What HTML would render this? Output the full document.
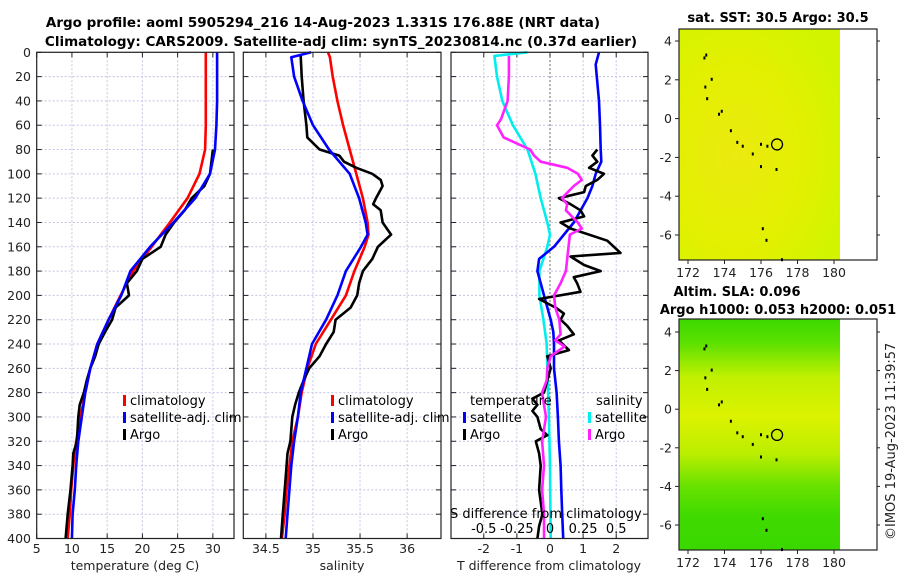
<!DOCTYPE html>
<html><head><meta charset="utf-8"><style>
html,body{margin:0;padding:0;background:#fff;}
svg{display:block;font-family:"DejaVu Sans","Liberation Sans",sans-serif;}
</style></head><body>
<svg id="c" width="900" height="580" viewBox="0 0 900 580" xmlns="http://www.w3.org/2000/svg">
<text x="323" y="27" text-anchor="middle" font-size="13.5" font-weight="bold">Argo profile: aoml 5905294_216 14-Aug-2023 1.331S 176.88E (NRT data)</text>
<text x="341" y="46" text-anchor="middle" font-size="13.5" font-weight="bold">Climatology: CARS2009. Satellite-adj clim: synTS_20230814.nc (0.37d earlier)</text>
<defs>
<radialGradient id="sstg" cx="0.35" cy="0.55" r="0.7"><stop offset="0" stop-color="#ecea10"/><stop offset="0.6" stop-color="#e2f000"/><stop offset="1" stop-color="#d2f400"/></radialGradient>
<linearGradient id="slag" x1="0" y1="0" x2="0" y2="1">
<stop offset="0" stop-color="#3cd800"/><stop offset="0.1" stop-color="#5ae000"/><stop offset="0.25" stop-color="#c0f000"/><stop offset="0.42" stop-color="#dcf200"/><stop offset="0.58" stop-color="#bcee00"/><stop offset="0.72" stop-color="#6ae200"/><stop offset="0.85" stop-color="#40da00"/><stop offset="1" stop-color="#3ad800"/></linearGradient>
</defs>
<g id="plots"></g>
</svg>
<script>
// ---- data (depth in m) ----
const depthClim = [0,20,40,60,80,100,120,140,160,180,200,220,240,260,280,300,320,340,360,380,400];
const tempClim = [29.0,29.0,29.0,29.0,28.9,28.1,26.4,23.9,21.3,18.7,16.9,15.2,13.6,12.6,11.9,11.2,10.6,10.2,9.9,9.7,9.4];
const tempSat = [30.6,30.6,30.6,30.5,30.3,29.6,27.5,24.4,21.1,18.3,17.0,15.2,13.6,12.6,11.9,11.4,10.9,10.6,10.4,10.1,10.0];
const depthArgoT = [80,100,110,120,130,140,150,160,170,175,180,190,200,210,220,230,240,250,260,270,280,290,300,320,330,340,360,380,400];
const tempArgo = [30.0,29.6,28.8,27.0,26.0,24.5,23.3,22.6,20.0,19.6,19.2,17.8,18.1,16.2,15.7,14.7,13.8,13.3,12.6,12.1,11.7,11.1,10.9,10.7,10.2,10.1,9.8,9.4,9.1];
const depthSal = [0,4,20,40,60,80,100,120,140,150,160,180,200,220,240,260,280,300,320,340,360,380,400];
const salClim = [35.16,35.18,35.21,35.26,35.32,35.39,35.46,35.53,35.58,35.59,35.55,35.44,35.35,35.19,35.03,34.94,34.88,34.84,34.78,34.75,34.72,34.70,34.67];
const salSat = [34.98,34.77,34.80,34.89,35.00,35.17,35.39,35.49,35.56,35.58,35.51,35.35,35.26,35.14,34.99,34.93,34.87,34.84,34.80,34.77,34.75,34.73,34.71];
const depthArgoS = [3,20,40,60,70,80,85,90,95,100,105,110,120,125,130,140,150,160,170,180,190,200,210,220,230,240,250,260,270,280,290,300,320,330,340,360,380,400];
const salArgo = [34.87,34.88,34.90,34.93,34.94,35.07,35.28,35.33,35.46,35.63,35.72,35.74,35.67,35.64,35.72,35.74,35.83,35.69,35.63,35.53,35.49,35.47,35.40,35.24,35.22,35.14,35.07,34.96,34.90,34.85,34.81,34.78,34.76,34.73,34.72,34.70,34.68,34.66];
const depthDiffTS = [0,10,40,60,80,90,100,110,120,140,160,170,180,190,200,220,230,240,260,280,300,320,340,360,380,400];
const tDiffSat = [1.48,1.38,1.48,1.51,1.53,1.55,1.38,1.28,1.13,0.72,0.12,-0.33,-0.38,-0.28,-0.18,0.02,0.10,0.12,0.12,0.20,0.24,0.27,0.32,0.34,0.37,0.40];
const depthDiffTA = [80,85,90,95,100,105,110,115,120,125,130,135,140,145,155,165,168,175,180,185,190,197,203,210,215,220,225,232,237,245,250,260,270,280,285,290,295,300,310,315,320,330,340,360,380,390,400];
const tDiffArgo = [1.43,1.28,1.43,1.18,1.63,1.43,1.08,1.03,0.27,0.62,0.92,1.03,0.32,0.62,1.73,2.13,0.62,1.03,1.53,0.72,0.82,0.92,-0.33,0.17,0.42,0.32,0.52,0.72,0.27,0.57,-0.08,0.02,-0.08,-0.18,-0.53,-0.38,-0.53,-0.38,-0.28,-0.08,-0.43,-0.33,-0.28,-0.33,-0.23,-0.33,-0.38];
const depthDiffS = [0,3,20,40,60,80,100,120,140,150,160,180,200,220,240,260,300,340,400];
const sDiffSat = [-0.17,-0.42,-0.40,-0.36,-0.28,-0.17,-0.11,-0.07,-0.02,0.00,-0.02,-0.08,-0.08,-0.05,-0.025,-0.02,-0.008,0.0,0.005];
const depthDiffSA = [3,20,40,55,60,70,80,85,90,95,100,105,110,120,125,130,140,145,150,160,170,180,190,200,210,220,232,237,242,250,260,270,280,290,300,320,340,360,380,400];
const sDiffArgo = [-0.31,-0.31,-0.32,-0.37,-0.40,-0.35,-0.15,-0.12,-0.07,0.13,0.21,0.24,0.18,0.09,0.13,0.12,0.21,0.24,0.15,0.14,0.13,0.12,0.08,0.03,0.04,0.07,0.08,0.04,0.11,0.005,-0.02,-0.025,-0.06,-0.045,-0.03,-0.06,-0.045,-0.06,-0.045,-0.045];
const depthTicks = [0,20,40,60,80,100,120,140,160,180,200,220,240,260,280,300,320,340,360,380,400];
const tempTicks = [5,10,15,20,25,30];
const salTicks = [34.5,35,35.5,36];
const tDiffTicks = [-2,-1,0,1,2];
const sDiffTicks = [-0.5,-0.25,0,0.25,0.5];
const sDiffTickLabels = ["-0.5","-0.25","0","0.25","0.5"];
const lonTicks = [172,174,176,178,180];
const latTicks = [4,2,0,-2,-4,-6];
const argoLon = [176.88];
const argoLat = [-1.331];
const islandLon = [172.9,173.0,172.95,173.3,173.05,173.7,173.85,174.35,174.7,175.0,175.55,176.0,176.35,176.0,176.85,176.1,176.3,177.15];
const islandLat = [3.1,3.25,1.6,2.0,1.0,0.2,0.35,-0.65,-1.25,-1.45,-1.85,-1.35,-1.45,-2.5,-2.65,-5.7,-6.3,-7.3];

const NS='http://www.w3.org/2000/svg';
const root=document.getElementById('plots');
function el(tag,attrs,parent){const e=document.createElementNS(NS,tag);for(const k in attrs)e.setAttribute(k,attrs[k]);(parent||root).appendChild(e);return e;}
const Y0=52.3, Y1=538.5;
const yD=d=>Y0+(d/400)*(Y1-Y0);
function mk(x0,x1,v0,v1){return v=>x0+(v-v0)/(v1-v0)*(x1-x0);}
function frame(name){
  const g=el('g',{});
  
  
  return g;
}
function grid(g,x0,x1,xs){
  depthTicks.forEach(d=>{const l=el('line',{x1:x0,x2:x1,y1:yD(d),y2:yD(d),stroke:'#c4c4e6','stroke-width':1,'stroke-dasharray':'2,2'},g);
    
    el('line',{x1:x0,x2:x0+5,y1:yD(d),y2:yD(d),stroke:'#222'},g);el('line',{x1:x1-5,x2:x1,y1:yD(d),y2:yD(d),stroke:'#222'},g);});
  xs.forEach(x=>{const l=el('line',{x1:x,x2:x,y1:Y0,y2:Y1,stroke:'#c4c4e6','stroke-width':1,'stroke-dasharray':'2,2'},g);
    
    el('line',{x1:x,x2:x,y1:Y1,y2:Y1-5,stroke:'#222'},g);el('line',{x1:x,x2:x,y1:Y0,y2:Y0+5,stroke:'#222'},g);});
}
function box(g,x0,x1){const r=el('rect',{x:x0,y:Y0,width:x1-x0,height:Y1-Y0,fill:'none',stroke:'#222','stroke-width':1.2},g);}
function line(g,xs,ds,xf,color,name){
  const p=xs.map((v,i)=>(i?'L':'M')+xf(v).toFixed(1)+','+yD(ds[i]).toFixed(1)).join('');
  const e=el('path',{d:p,fill:'none',stroke:color,'stroke-width':2.6,'stroke-linejoin':'round'},g);
  
  
}
function txt(g,x,y,s,attrs,name){const t=el('text',Object.assign({x:x,y:y,'font-size':12.5,fill:'#222'},attrs||{}),g);t.textContent=s;
  return t;}
function legItem(g,x,y,color,label,name){el('rect',{x:x,y:y-10,width:3,height:11,fill:color},g);txt(g,x+7,y,label,{'font-size':13,fill:'#000'},name);}

// Panel 1 temperature
const x1f=mk(36.7,234,5,33);
const g1=frame('temperature-panel');
grid(g1,36.7,234,tempTicks.map(x1f));
depthTicks.forEach(d=>txt(g1,31,yD(d)+4.5,String(d),{'text-anchor':'end'},'y-tick-label'));
tempTicks.forEach(t=>txt(g1,x1f(t),553,String(t),{'text-anchor':'middle'},'x-tick-label'));
txt(g1,135,570,'temperature (deg C)',{'text-anchor':'middle'},'x-axis-title');
line(g1,tempClim,depthClim,x1f,'#ff0000','temp-climatology-line');
line(g1,tempArgo,depthArgoT,x1f,'#000','temp-argo-line');
line(g1,tempSat,depthClim,x1f,'#0000ff','temp-satellite-line');
legItem(g1,123,405,'#ff0000','climatology','legend-climatology');
legItem(g1,123,422,'#0000ff','satellite-adj. clim','legend-satellite');
legItem(g1,123,439,'#000','Argo','legend-argo');
box(g1,36.7,234);

// Panel 2 salinity
const x2f=mk(243.3,441,34.26,36.36);
const g2=frame('salinity-panel');
grid(g2,243.3,441,salTicks.map(x2f));
salTicks.forEach(t=>txt(g2,x2f(t),553,String(t),{'text-anchor':'middle'},'x-tick-label'));
txt(g2,342,570,'salinity',{'text-anchor':'middle'},'x-axis-title');
line(g2,salClim,depthSal,x2f,'#ff0000','sal-climatology-line');
line(g2,salArgo,depthArgoS,x2f,'#000','sal-argo-line');
line(g2,salSat,depthSal,x2f,'#0000ff','sal-satellite-line');
legItem(g2,331,405,'#ff0000','climatology','legend-climatology');
legItem(g2,331,422,'#0000ff','satellite-adj. clim','legend-satellite');
legItem(g2,331,439,'#000','Argo','legend-argo');
box(g2,243.3,441);

// Panel 3 differences
const x3f=mk(451,648,-2.99,2.96);
const s3f=s=>x3f(s*4);
const g3=frame('difference-panel');
grid(g3,451,648,tDiffTicks.map(x3f));
el('line',{x1:x3f(0),x2:x3f(0),y1:Y0,y2:Y1,stroke:'#445522','stroke-width':1,'stroke-dasharray':'1.5,2.5'},g3);
tDiffTicks.forEach(t=>txt(g3,x3f(t),553,String(t),{'text-anchor':'middle'},'x-tick-label'));
txt(g3,549,570,'T difference from climatology',{'text-anchor':'middle'},'x-axis-title');
line(g3,sDiffSat,depthDiffS,s3f,'#00eeee','s-diff-satellite-line');
line(g3,tDiffSat,depthDiffTS,x3f,'#0000ff','t-diff-satellite-line');
line(g3,tDiffArgo,depthDiffTA,x3f,'#000','t-diff-argo-line');
line(g3,sDiffArgo,depthDiffSA,s3f,'#ff22ff','s-diff-argo-line');
txt(g3,470,405,'temperature',{'font-size':13,fill:'#000'},'legend-temperature-heading');
legItem(g3,463,422,'#0000ff','satellite','legend-t-satellite');
legItem(g3,463,439,'#000','Argo','legend-t-argo');
txt(g3,596,405,'salinity',{'font-size':13,fill:'#000'},'legend-salinity-heading');
legItem(g3,588,422,'#00eeee','satellite','legend-s-satellite');
legItem(g3,588,439,'#ff22ff','Argo','legend-s-argo');
txt(g3,450,518,'S difference from climatology',{'font-size':13,fill:'#000'},'s-axis-title');
sDiffTicks.forEach((s,i)=>txt(g3,s3f(s),533,sDiffTickLabels[i],{'text-anchor':'middle','font-size':13,fill:'#000'},'s-tick-label'));
box(g3,451,648);

// Maps
function map(top,bottom,lat0y,fill,name,titleLines){
  const g=el('g',{});
  
  
  const lx=mk(688,834,172,180);
  const ly=mk(lat0y[0],lat0y[1],4,-6);
  const im=el('rect',{x:679,y:top,width:161,height:bottom-top,fill:fill},g);
  
  el('rect',{x:679,y:top,width:198,height:bottom-top,fill:'none',stroke:'#222','stroke-width':1.2},g);
  lonTicks.forEach(l=>{el('line',{x1:lx(l),x2:lx(l),y1:bottom,y2:bottom+4,stroke:'#222'},g);txt(g,lx(l),bottom+17,String(l),{'text-anchor':'middle'},'lon-tick-label');});
  latTicks.forEach(l=>{el('line',{x1:679,x2:675,y1:ly(l),y2:ly(l),stroke:'#222'},g);el('line',{x1:877,x2:880,y1:ly(l),y2:ly(l),stroke:'#222'},g);txt(g,672,ly(l)+4.5,String(l),{'text-anchor':'end'},'lat-tick-label');});
  islandLon.forEach((l,i)=>{const r=el('rect',{x:lx(l)-1,y:ly(islandLat[i])-2,width:2,height:3,fill:'#000'},g);});
  argoLon.forEach((l,i)=>{const c=el('circle',{cx:lx(l),cy:ly(argoLat[i]),r:5.5,fill:'none',stroke:'#000','stroke-width':1.3},g);});
  titleLines.forEach(t=>txt(g,t[0],t[1],t[2],{'text-anchor':'middle','font-size':13,'font-weight':'bold',fill:'#000'},'map-title'));
}
map(29,260,[41,235],'url(#sstg)','sst-map',[[778,22,'sat. SST: 30.5 Argo: 30.5']]);
map(319,550,[332,525],'url(#slag)','sla-map',[[737,296,'Altim. SLA: 0.096'],[778,314,'Argo h1000: 0.053 h2000: 0.051']]);
txt(root,0,0,'©IMOS 19-Aug-2023 11:39:57',{'font-size':13,fill:'#222',transform:'translate(895,540) rotate(-90)'},'copyright-timestamp');
</script>
</body></html>
